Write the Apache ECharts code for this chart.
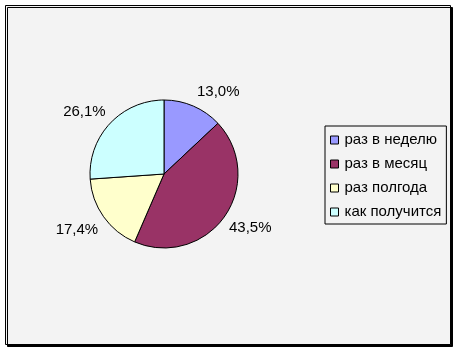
<!DOCTYPE html>
<html><head><meta charset="utf-8">
<script src="https://cdn.jsdelivr.net/npm/echarts@6/dist/echarts.min.js"></script>
<style>html,body{margin:0;padding:0;background:#fff}#c{width:458px;height:352px}</style>
</head><body><div id="c"></div>
<script>
const categories = ['раз в неделю', 'раз в месяц', 'раз полгода', 'как получится'];
const values = [13.0, 43.5, 17.4, 26.1];
const colors = ['#9999FF', '#993366', '#FFFFCC', '#CCFFFF'];
const labelNudge = [[-2, -1], [-7, 3], [6, 5], [6, -2]];

const chart = echarts.init(document.getElementById('c'), null, {renderer: 'canvas'});
const FONT = '"Liberation Sans", Arial, sans-serif';
chart.setOption({
  animation: false,
  backgroundColor: '#ffffff',
  graphic: [{
    type: 'rect', z: -10,
    shape: {x: 5.5, y: 5.5, width: 445, height: 339},
    style: {fill: '#F3F3F3', stroke: '#000', lineWidth: 1, shadowColor: '#000', shadowOffsetX: 2, shadowOffsetY: 2, shadowBlur: 0}
  }],
  legend: {
    orient: 'vertical',
    left: 325, top: 126,
    padding: [6, 5, 4, 5],
    borderColor: '#000', borderWidth: 1,
    backgroundColor: 'transparent',
    icon: 'rect', itemWidth: 8, itemHeight: 8, itemGap: 8,
    itemStyle: {borderColor: '#000', borderWidth: 1},
    textStyle: {fontFamily: FONT, fontSize: 15, lineHeight: 16, color: '#000', padding: [0, 0, 0, 1]},
    data: categories
  },
  series: [{
    type: 'pie',
    center: [164, 174], radius: 74,
    startAngle: 90, clockwise: true,
    data: categories.map((n, i) => ({name: n, value: values[i], itemStyle: {color: colors[i]}})),
    itemStyle: {borderColor: '#000', borderWidth: 1},
    label: {
      show: true, position: 'outside', distanceToLabelLine: 0,
      fontFamily: FONT, fontSize: 15, color: '#000',
      formatter: p => p.value.toFixed(1).replace('.', ',') + '%'
    },
    labelLine: {show: false, length: 14, length2: 0},
    labelLayout: p => ({dx: labelNudge[p.dataIndex][0], dy: labelNudge[p.dataIndex][1]}),
    emphasis: {disabled: true}
  }]
});
</script></body></html>
